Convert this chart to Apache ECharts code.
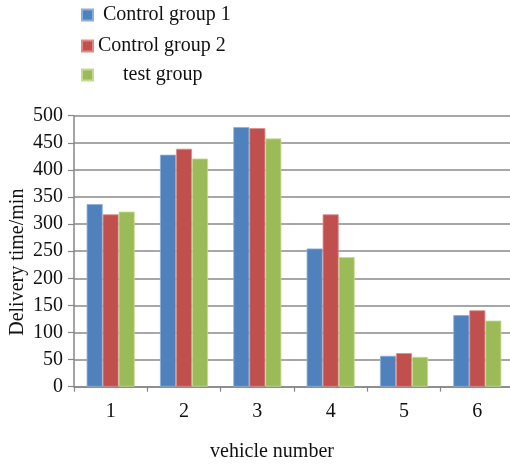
<!DOCTYPE html>
<html>
<head>
<meta charset="utf-8">
<script src="https://cdn.jsdelivr.net/npm/echarts@6/dist/echarts.min.js"></script>
<style>
  html, body { margin: 0; padding: 0; background: #fff; }
  #chart { width: 510px; height: 464px; }
</style>
</head>
<body>
<div id="chart"></div>
<script>
// Delivery time per vehicle for the two control groups and the test group
const categories = ['1', '2', '3', '4', '5', '6'];
const control1 = [337, 428, 479, 255, 57, 132];
const control2 = [318, 439, 477, 318, 62, 141];
const testGroup = [323, 421, 458, 239, 55, 122];
const yTicks = { min: 0, max: 500, interval: 50 };

const serif = '"Liberation Serif", "Times New Roman", serif';
const colors = ['#4F81BD', '#C0504D', '#9BBB59'];
const edges = ['#8CAEDB', '#E08A88', '#C3DA93'];

function legendItem(name, top, textShift) {
  return {
    data: [name],
    left: 81,
    top: top,
    padding: 0,
    itemWidth: 11,
    itemHeight: 11,
    icon: 'rect',
    selectedMode: false,
    textStyle: {
      fontFamily: serif,
      fontSize: 20,
      lineHeight: 20,
      color: '#111',
      padding: [0, 0, 0, textShift]
    }
  };
}

function barSeries(name, data, i) {
  return {
    name: name,
    type: 'bar',
    data: data,
    barWidth: 16,
    barGap: '0%',
    itemStyle: { color: colors[i], borderColor: edges[i], borderWidth: 0.8 }
  };
}

const chart = echarts.init(document.getElementById('chart'), null, { renderer: 'canvas' });
chart.setOption({
  animation: false,
  color: colors,
  legend: [
    legendItem('Control group 1', 5, 5),
    legendItem('Control group 2', 36, 0),
    legendItem('test group', 65, 25)
  ],
  grid: {
    left: 74, top: 115.7, bottom: 77.3, right: -4,
    containLabel: false,
    outerBoundsMode: 'none'
  },
  xAxis: {
    type: 'category',
    data: categories,
    name: 'vehicle number',
    nameLocation: 'middle',
    nameGap: 55,
    nameMoveOverlap: false,
    nameTextStyle: { fontFamily: serif, fontSize: 20, color: '#111', padding: [0, 44, 0, 0] },
    axisLine: { lineStyle: { color: '#868686', width: 1.5 } },
    axisTick: { show: true, length: 5, lineStyle: { color: '#868686', width: 1.2 } },
    axisLabel: { fontFamily: serif, fontSize: 20, color: '#111', margin: 15 }
  },
  yAxis: {
    type: 'value',
    min: yTicks.min,
    max: yTicks.max,
    interval: yTicks.interval,
    name: 'Delivery time/min',
    nameLocation: 'middle',
    nameGap: 46,
    nameMoveOverlap: false,
    nameTextStyle: { fontFamily: serif, fontSize: 20, color: '#111', padding: [0, 22, 0, 0] },
    axisLine: { show: true, lineStyle: { color: '#868686', width: 1.5 } },
    axisTick: { show: true, length: 6, lineStyle: { color: '#868686', width: 1.2 } },
    axisLabel: { fontFamily: serif, fontSize: 20, color: '#111', margin: 11 },
    splitLine: { show: true, lineStyle: { color: '#8a8a8a', width: 1.5 } }
  },
  series: [
    barSeries('Control group 1', control1, 0),
    barSeries('Control group 2', control2, 1),
    barSeries('test group', testGroup, 2)
  ]
});
</script>
</body>
</html>
